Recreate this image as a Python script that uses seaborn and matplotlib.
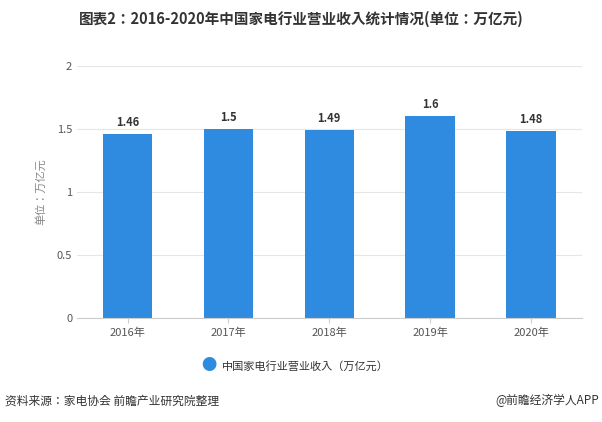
import pandas as pd
import seaborn as sns
import matplotlib.pyplot as plt

years = ["2016年", "2017年", "2018年", "2019年", "2020年"]
revenue = [1.46, 1.5, 1.49, 1.6, 1.48]
labels = ["1.46", "1.5", "1.49", "1.6", "1.48"]

plt.rcParams["font.family"] = ["Noto Sans CJK SC", "Noto Sans CJK JP", "Noto Sans CJK TC", "DejaVu Sans"]
df = pd.DataFrame({"year": years, "revenue": revenue})

fig = plt.figure(figsize=(6.02, 4.22), dpi=100)
ax = fig.add_axes([0.128, 0.246, 0.838, 0.598])
sns.barplot(data=df, x="year", y="revenue", color="#2f8be0", width=0.49, ax=ax, saturation=1)
for i, (v, t) in enumerate(zip(revenue, labels)):
    ax.text(i, v + 0.04, t, ha="center", va="bottom", fontsize=8, fontweight="bold", color="#333333")

ax.set_ylim(0, 2)
ax.set_yticks([0, 0.5, 1, 1.5, 2])
ax.set_yticklabels(["0", "0.5", "1", "1.5", "2"])
ax.yaxis.grid(True, color="#e6e6e6", linewidth=0.8)
ax.set_axisbelow(True)
for s in ["top", "right", "left"]:
    ax.spines[s].set_visible(False)
ax.spines["bottom"].set_color("#cccccc")
ax.tick_params(axis="y", length=0, labelsize=8, colors="#555555")
ax.tick_params(axis="x", labelsize=8, colors="#555555", color="#cccccc")
ax.set_xlabel("")
ax.set_ylabel("单位：万亿元", fontsize=8, color="#888888", labelpad=8)

fig.text(0.5, 0.943, "图表2：2016-2020年中国家电行业营业收入统计情况(单位：万亿元)",
         ha="center", fontsize=10.5, fontweight="bold", color="#333333")
fig.text(0.347, 0.133, "●", ha="center", va="center", fontsize=11, color="#2f8be0")
fig.text(0.368, 0.131, "中国家电行业营业收入（万亿元）", ha="left", va="center", fontsize=8, color="#333333")
fig.text(0.008, 0.05, "资料来源：家电协会 前瞻产业研究院整理", ha="left", va="center", fontsize=8.5, color="#333333")
fig.text(0.995, 0.05, "@前瞻经济学人APP", ha="right", va="center", fontsize=8.5, color="#333333")

fig.savefig("out.png", dpi=100)
